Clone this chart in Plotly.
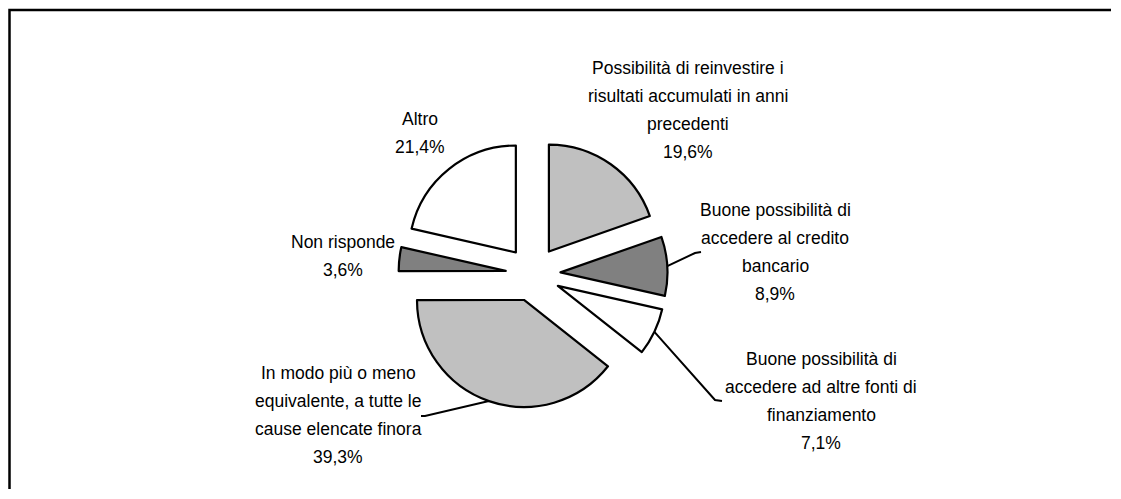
import math
import plotly.graph_objects as go

# Data
labels = [
    "Possibilità di reinvestire i<br>risultati accumulati in anni<br>precedenti",
    "Buone possibilità di<br>accedere al credito<br>bancario",
    "Buone possibilità di<br>accedere ad altre fonti di<br>finanziamento",
    "In modo più o meno<br>equivalente, a tutte le<br>cause elencate finora",
    "Non risponde",
    "Altro",
]
values = [19.6, 8.9, 7.1, 39.3, 3.6, 21.4]
colors = ["#C0C0C0", "#808080", "#FFFFFF", "#C0C0C0", "#808080", "#FFFFFF"]

# page is shown with an 8px body margin, so the figure is a bit smaller
OFF = 8
W, H = 1121 - 2 * OFF, 499 - 2 * OFF
PULL = 0.257
CX, CY, R = 533, 274, 107  # pie centre / radius on the page, px
half = R * (1 + PULL)

def px(x, y):
    return (x - OFF) / W, 1 - (y - OFF) / H

fig = go.Figure(go.Pie(
    values=values,
    labels=[l.replace("<br>", " ") for l in labels],
    sort=False,
    direction="clockwise",
    rotation=0,
    pull=[PULL] * len(values),
    marker=dict(colors=colors, line=dict(color="black", width=2.2)),
    textinfo="none",
    hoverinfo="label+percent",
    showlegend=False,
    domain=dict(x=[px(CX - half, 0)[0], px(CX + half, 0)[0]],
                y=[px(0, CY + half)[1], px(0, CY - half)[1]]),
))

# label centres (page px) and leader line points
label_pos = [(688, 110), (775, 252), (821, 401), (338, 415), (343, 256), (420, 133)]
leaders = {1: [(695, 253), (701, 252)], 2: [(715, 400), (722, 401)], 3: [(425, 416), (421, 416)]}
LINE_H = 28

font = dict(family="Liberation Sans, Arial, sans-serif", size=17.5, color="black")

total = sum(values)
cum = 0
annotations = []
shapes = []
for i, v in enumerate(values):
    mid = (cum + v / 2) / total * 2 * math.pi
    cum += v
    pct = f"{v:.1f}".replace(".", ",") + "%"
    lines = labels[i].split("<br>") + [pct]
    lx, ly = label_pos[i]
    top = ly - LINE_H * (len(lines) - 1) / 2
    for k, line in enumerate(lines):
        x, y = px(lx, top + k * LINE_H)
        annotations.append(dict(
            x=x, y=y, xref="paper", yref="paper", text=line,
            showarrow=False, xanchor="center", yanchor="middle", font=font,
        ))
    if i in leaders:
        sx = CX + R * (1 + PULL) * math.sin(mid)
        sy = CY - R * (1 + PULL) * math.cos(mid)
        pts = [(sx, sy)] + leaders[i]
        path = "M " + " L ".join("{},{}".format(*px(a, b)) for a, b in pts)
        shapes.append(dict(type="path", path=path, xref="paper", yref="paper",
                           line=dict(color="black", width=2)))

# outer frame: only the left and top sides fall inside the picture
fx, fy = px(9.5, 10)
ex, ey = px(1121 - 10, 499 - 10)
shapes.append(dict(type="path", xref="paper", yref="paper",
                   path=f"M {fx},{ey} L {fx},{fy} L {ex},{fy}",
                   line=dict(color="black", width=2.5)))

fig.update_layout(
    width=W, height=H,
    margin=dict(l=0, r=0, t=0, b=0),
    paper_bgcolor="white",
    plot_bgcolor="white",
    annotations=annotations,
    shapes=shapes,
)

fig.write_html("out.html")
